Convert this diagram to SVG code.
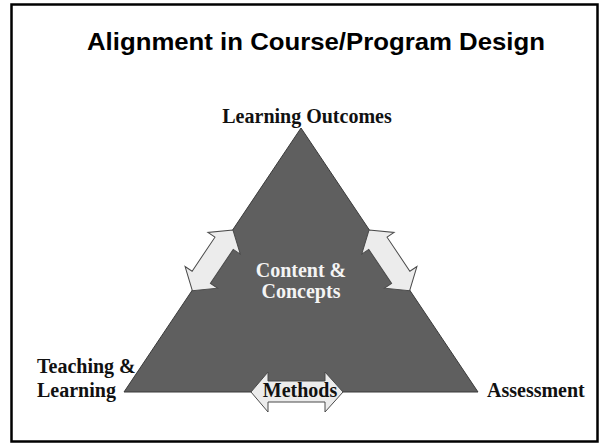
<svg xmlns="http://www.w3.org/2000/svg" width="600" height="445" viewBox="0 0 600 445">
<style>
.lbl{font-family:"Liberation Serif","Times New Roman",serif;font-weight:bold;font-size:20px;fill:#111}
.inner{font-family:"Liberation Serif","Times New Roman",serif;font-weight:bold;font-size:20px;fill:#f4f4f4}
.title{font-family:"Liberation Sans",Arial,sans-serif;font-weight:bold;font-size:24px;fill:#000}
.arr{fill:#ececec;stroke:#4a4a4a;stroke-width:1}
</style>
<defs>
<polygon id="dbl73" class="arr" points="0,0 16,-19.5 16,-11 57,-11 57,-19.5 73,0 57,19.5 57,11 16,11 16,19.5"/>
</defs>
<rect x="11.5" y="4.5" width="586" height="437" fill="#fff" stroke="#000" stroke-width="2.5"/>
<text class="title" x="87" y="50" textLength="458" lengthAdjust="spacingAndGlyphs">Alignment in Course/Program Design</text>
<g id="triangle">
<polygon points="301,128 478,392 124,392" fill="#5f5f5f" stroke="#3a3a3a" stroke-width="1"/>
<text class="inner" x="301" y="277" text-anchor="middle">Content &amp;</text>
<text class="inner" x="301" y="298" text-anchor="middle">Concepts</text>
</g>
<g id="outcomes">
<text class="lbl" x="307" y="123" text-anchor="middle">Learning Outcomes</text>
</g>
<g id="teaching">
<text class="lbl" x="37" y="373">Teaching &amp;</text>
<text class="lbl" x="37" y="397">Learning</text>
</g>
<g id="assessment">
<text class="lbl" x="487" y="397">Assessment</text>
</g>
<g id="connectors">
<use href="#dbl73" transform="translate(369,230) rotate(56.16)"/>
<g transform="translate(602,0) scale(-1,1)">
<use href="#dbl73" transform="translate(369,230) rotate(56.16)"/>
</g>
<polygon class="arr" points="251,392 268,372 268,381 325,381 325,372 343,392 325,412 325,402 268,402 268,412"/>
</g>
<g id="methods">
<text class="lbl" x="300" y="397" text-anchor="middle">Methods</text>
</g>
</svg>
